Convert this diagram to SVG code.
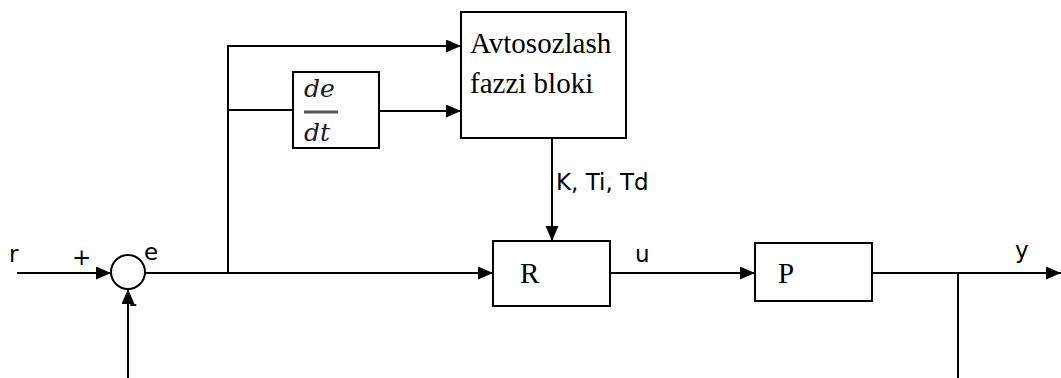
<svg xmlns="http://www.w3.org/2000/svg" width="1061" height="378" viewBox="0 0 1061 378">
<style>
.ln{fill:none;stroke:#000;stroke-width:2}
.box{fill:#fff;stroke:#000;stroke-width:2}
.serif{font-family:"Liberation Serif","Times New Roman",serif;font-size:29px;fill:#000}
.sans{font-family:"DejaVu Sans",sans-serif;font-size:23px;fill:#000}
.math{font-family:"DejaVu Serif","Liberation Serif",serif;font-style:italic;font-size:25px;fill:#1a1a2a}
</style>
<defs>
<marker id="ah" markerUnits="userSpaceOnUse" markerWidth="16" markerHeight="14" refX="15" refY="6.5" orient="auto">
<path d="M0,0 L15,6.5 L0,13 z" fill="#000"/>
</marker>
</defs>
<rect width="1061" height="378" fill="#fff"/>
<g id="connectors">
<path class="ln" d="M17,273 H111" marker-end="url(#ah)"/>
<path class="ln" d="M128,378 V289" marker-end="url(#ah)"/>
<path class="ln" d="M145,273 H493" marker-end="url(#ah)"/>
<path class="ln" d="M228,273 V46 H461" marker-end="url(#ah)"/>
<path class="ln" d="M228,110 H293"/>
<path class="ln" d="M379,111 H461" marker-end="url(#ah)"/>
<path class="ln" d="M552,138 V241" marker-end="url(#ah)"/>
<path class="ln" d="M610,273 H755" marker-end="url(#ah)"/>
<path class="ln" d="M872,273 H1061" marker-end="url(#ah)"/>
<path class="ln" d="M958,273 V378"/>
</g>
<g id="sum">
<circle class="box" cx="128" cy="272" r="17"/>
</g>
<g id="derivative">
<rect class="box" x="293" y="72" width="86" height="76"/>
<text class="math" x="304" y="97">de</text>
<line x1="304" y1="112" x2="338" y2="112" stroke="#555" stroke-width="3"/>
<text class="math" x="304" y="141">dt</text>
</g>
<g id="fuzzy">
<rect class="box" x="461" y="12" width="165" height="126"/>
<text class="serif" x="470" y="53">Avtosozlash</text>
<text class="serif" x="470" y="93">fazzi bloki</text>
</g>
<g id="R">
<rect class="box" x="493" y="241" width="117" height="65"/>
<text class="serif" x="520" y="283">R</text>
</g>
<g id="P">
<rect class="box" x="755" y="243" width="117" height="58"/>
<text class="serif" x="778" y="283">P</text>
</g>
<g id="labels">
<text class="sans" x="9" y="262">r</text>
<text class="sans" x="72" y="265">+</text>
<text class="sans" x="144" y="260">e</text>
<text class="sans" x="129" y="311" font-size="17">-</text>
<text class="sans" x="556" y="190">K, Ti, Td</text>
<text class="sans" x="635" y="262">u</text>
<text class="sans" x="1015" y="258">y</text>
</g>
</svg>
